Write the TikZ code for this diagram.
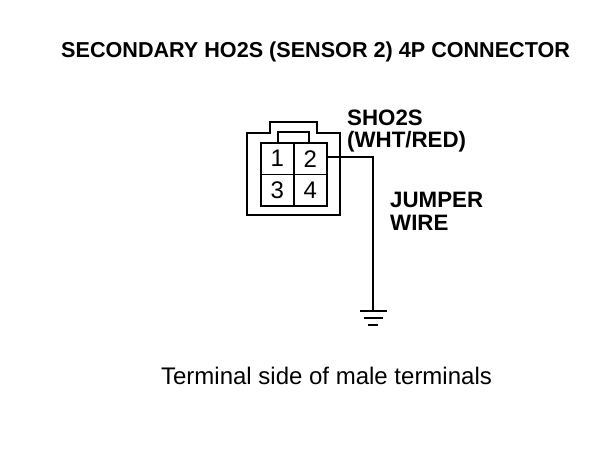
\documentclass[tikz,border=0pt]{standalone}
\usepackage{fontspec}
\setmainfont{Liberation Sans}
\begin{document}
\begin{tikzpicture}[x=1pt,y=-1pt,
  outline/.style={draw=black,line width=1.8pt,line join=miter},
  wire/.style={draw=black,line width=1.2pt},
  bold/.style={font=\fontsize{22.3}{24}\selectfont\bfseries,inner sep=0pt,align=left,text=black},
  cell/.style={draw=black,line width=1.8pt,minimum width=33pt,minimum height=31.5pt,inner sep=0pt,font=\fontsize{24}{24}\selectfont,anchor=north west}]
\useasboundingbox (0,0) rectangle (608,448);
\fill[white] (0,0) rectangle (608,448);
\node[bold,anchor=west,font=\fontsize{21.6}{24}\selectfont\bfseries] (title) at (61,52) {SECONDARY HO2S (SENSOR 2) 4P CONNECTOR};
\draw[outline] (247,133) -- (270,133) -- (270,122) -- (317,122) -- (317,133) -- (340,133) -- (340,215) -- (247,215) -- cycle;
\draw[outline] (278,142) -- (278,132) -- (309,132) -- (309,142);
\node[cell] (p1) at (260,142) {1};
\node[cell] (p2) at (293,142) {2};
\node[cell] (p3) at (260,173.5) {3};
\node[cell] (p4) at (293,173.5) {4};
\coordinate (gnd) at (373,311);
\draw[wire] (p2.east |- 0,157) -- (373,157) -- (gnd);
\draw[draw=black,line width=2.5pt] (360,311) -- (387,311);
\draw[draw=black,line width=1.2pt] (364,318) -- (383,318);
\draw[draw=black,line width=1.2pt] (368,325) -- (378,325);
\node[bold,anchor=west] (sho) at (347,118) {SHO2S};
\node[bold,anchor=west] (shob) at (347,142) {(WHT/RED)};
\node[bold,anchor=west] (jump) at (390,200) {JUMPER};
\node[bold,anchor=west] (jumpb) at (390,223) {WIRE};
\node[anchor=center,inner sep=0pt,font=\fontsize{24}{24}\selectfont] (cap) at (326.5,376) {Terminal side of male terminals};
\end{tikzpicture}
\end{document}
